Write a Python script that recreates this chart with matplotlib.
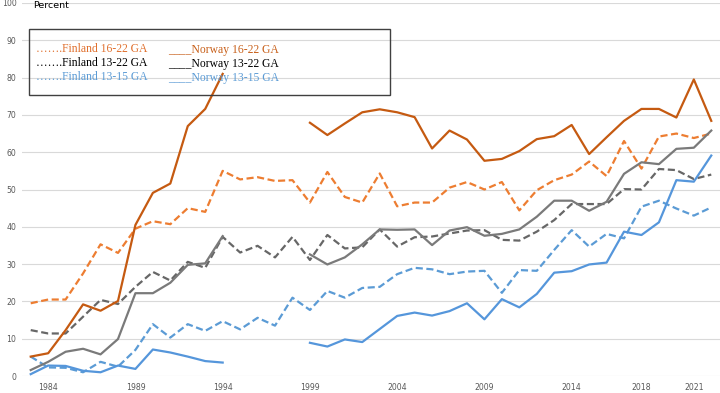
import numpy as np
import matplotlib
matplotlib.use("Agg")
import matplotlib.pyplot as plt
from matplotlib.patches import Rectangle

nan = np.nan
years = list(range(1983, 2023))
tick_years = [1984, 1989, 1994, 1999, 2004, 2009, 2014, 2018, 2021]

finland_16_22 = [19.5, 20.5, 20.5, 27.5, 35.3, 33.0, 39.5, 41.5, 40.7, 45.0,
                 44.0, 55.0, 52.7, 53.3, 52.3, 52.5, 46.5, 54.7, 48.0, 46.5,
                 54.3, 45.5, 46.5, 46.5, 50.5, 52.0, 50.0, 52.0, 44.4, 49.8,
                 52.5, 54.0, 57.5, 53.6, 63.0, 55.6, 64.2, 65.0, 63.8, 65.0]
norway_16_22 = [5.2, 6.1, 12.3, 19.2, 17.5, 20.1, 40.5, 49.1, 51.6, 67.0,
                71.6, 81.0, nan, nan, nan, nan, 67.9, 64.6, 67.7, 70.7,
                71.5, 70.7, 69.4, 61.0, 65.8, 63.4, 57.7, 58.2, 60.3, 63.5,
                64.3, 67.3, 59.5, 64.0, 68.4, 71.6, 71.6, 69.3, 79.5, 68.4]
finland_13_22 = [12.3, 11.4, 11.4, 15.9, 20.4, 19.3, 23.9, 27.9, 25.6, 30.6,
                 29.0, 37.3, 33.1, 34.9, 31.8, 37.3, 31.1, 37.8, 34.2, 34.5,
                 39.3, 34.7, 37.2, 37.4, 38.2, 39.0, 39.1, 36.5, 36.3, 38.7,
                 41.8, 46.1, 46.1, 46.1, 50.1, 50.0, 55.5, 55.2, 52.8, 54.0]
norway_13_22 = [1.6, 3.8, 6.5, 7.3, 5.8, 9.9, 22.2, 22.2, 25.0, 29.8,
                30.2, 37.5, nan, nan, nan, nan, 32.6, 29.9, 31.8, 35.3,
                39.3, 39.2, 39.3, 35.1, 39.0, 39.9, 37.6, 38.1, 39.3, 42.7,
                47.0, 47.0, 44.3, 46.7, 54.2, 57.3, 56.8, 60.9, 61.2, 65.8]
finland_13_15 = [5.2, 2.3, 2.2, 1.0, 3.8, 2.5, 7.0, 13.9, 10.3, 13.9,
                 12.1, 14.7, 12.5, 15.6, 13.5, 21.0, 17.7, 22.8, 21.0, 23.6,
                 23.9, 27.3, 29.0, 28.6, 27.3, 28.0, 28.2, 22.3, 28.4, 28.2,
                 33.8, 39.1, 34.7, 38.1, 36.9, 45.4, 47.0, 44.9, 43.0, 45.2]
norway_13_15 = [0.5, 2.8, 2.7, 1.4, 1.0, 2.8, 1.9, 7.1, 6.3, 5.2,
                4.0, 3.6, nan, nan, nan, nan, 8.9, 7.9, 9.8, 9.1,
                12.6, 16.1, 17.0, 16.2, 17.4, 19.5, 15.2, 20.6, 18.4, 22.0,
                27.7, 28.1, 29.9, 30.4, 38.7, 37.8, 41.2, 52.5, 52.1, 59.1]

legend_rows = [("…….Finland 16-22 GA", "____Norway 16-22 GA"),
               ("…….Finland 13-22 GA", "____Norway 13-22 GA"),
               ("…….Finland 13-15 GA", "____Norway 13-15 GA")]

W, H = 720, 393
fig = plt.figure(figsize=(7.2, 3.93), dpi=100)
ax = fig.add_axes([22 / W, (H - 376) / H, (W - 22) / W, (376 - 3) / H])

x = np.arange(len(years))
orange_d = "#ED7D31"
orange_s = "#C55A11"
gray_d = "#676767"
gray_s = "#7A7A7A"
blue_d = "#5B9BD5"
blue_s = "#5596DB"
lw = 1.6
dash = (3.2, 1.6)

ax.plot(x, finland_16_22, color=orange_d, lw=lw, ls=(0, dash), zorder=3)
ax.plot(x, finland_13_22, color=gray_d, lw=lw, ls=(0, dash), zorder=3)
ax.plot(x, finland_13_15, color=blue_d, lw=lw, ls=(0, dash), zorder=3)
ax.plot(x, norway_16_22, color=orange_s, lw=lw, zorder=4)
ax.plot(x, norway_13_22, color=gray_s, lw=lw, zorder=4)
ax.plot(x, norway_13_15, color=blue_s, lw=lw, zorder=4)

ax.set_xlim(-0.5, len(years) - 0.5)
ax.set_ylim(0, 100)
ax.set_yticks(range(0, 101, 10))
ax.set_xticks([years.index(y) for y in tick_years])
ax.set_xticklabels([str(y) for y in tick_years])
ax.tick_params(axis="both", length=0, labelsize=5.6, labelcolor="#595959")
ax.tick_params(axis="x", pad=5)
ax.tick_params(axis="y", pad=4)
for s in ax.spines.values():
    s.set_visible(False)
ax.grid(axis="y", color="#D9D9D9", lw=0.8, zorder=0)
ax.set_axisbelow(True)

fig.text(33 / W, 1 - 6 / H, "Percent", fontsize=6.8, color="black",
         ha="left", va="center")

# legend box (unfilled, lines show through)
fig.patches.append(Rectangle((29 / W, 1 - 95 / H), (390 - 29) / W, (95 - 29) / H,
                             transform=fig.transFigure, fill=False,
                             edgecolor="#404040", lw=1.0, zorder=5))
row_colors = [("#E0702E", "#C8601A"), ("black", "black"), ("#5B9BD5", "#5B9BD5")]
row_y = [49.5, 63.5, 77.5]
for (l, r), (cl, cr), yy in zip(legend_rows, row_colors, row_y):
    fig.text(36 / W, 1 - yy / H, l, color=cl, fontsize=8.4,
             family=["Liberation Serif", "DejaVu Serif"], ha="left", va="center", zorder=6)
    fig.text(168 / W, 1 - yy / H, r, color=cr, fontsize=8.4,
             family=["Liberation Serif", "DejaVu Serif"], ha="left", va="center", zorder=6)

fig.savefig("out.png", dpi=100)
